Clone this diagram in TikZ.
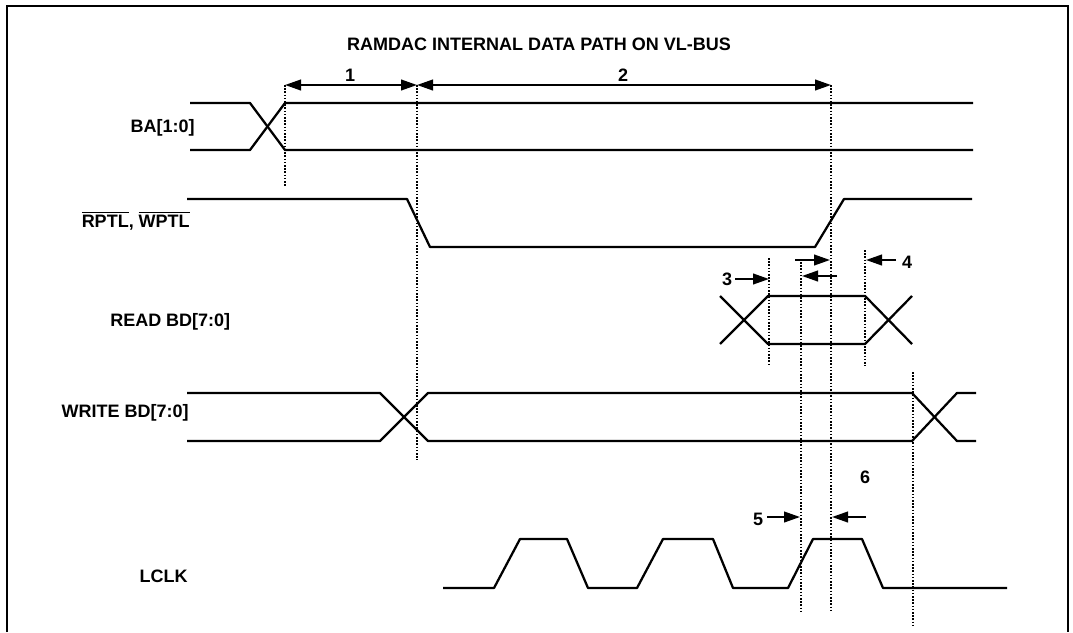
\documentclass[tikz,border=0pt]{standalone}
\usepackage{fontspec}
\setmainfont{Liberation Sans}
\usetikzlibrary{arrows.meta}
\begin{document}
\begin{tikzpicture}[x=0.75pt,y=-0.75pt,
  sig/.style={line width=1.7pt, line join=round},
  vguide/.style={line width=1.6pt, dash pattern=on 1.2pt off 1.2pt},
  dimone/.style={line width=1.5pt, -{Triangle[length=12pt,width=8pt]}},
  dimtwo/.style={line width=1.5pt, {Triangle[length=12pt,width=8pt]}-{Triangle[length=12pt,width=8pt]}},
  lbl/.style={font=\fontsize{13.5}{16}\selectfont\bfseries, inner sep=0pt},
]
\useasboundingbox (0,0) rectangle (1073,632);
% frame
\draw[line width=1.6pt] (7,632) -- (7,6) -- (1068,6) -- (1068,632);
% title
\node[lbl, anchor=base] (title) at (539,50) {RAMDAC INTERNAL DATA PATH ON VL-BUS};
% signal labels
\node[lbl, anchor=base east] (lba) at (195,132) {BA[1:0]};
\node[lbl, anchor=base east] (lrw) at (190,227) {$\overline{\hbox{RPTL}}$, $\overline{\hbox{WPTL}}$};
\node[lbl, anchor=base west] (lrd) at (110,326) {READ BD[7:0]};
\node[lbl, anchor=base east] (lwr) at (189,417) {WRITE BD[7:0]};
\node[lbl, anchor=base east] (lck) at (188,582) {LCLK};
% BA[1:0]
\draw[sig] (190,103) -- (250,103) -- (285,150) -- (973,150);
\draw[sig] (190,150) -- (250,150) -- (285,103) -- (973,103);
% RPTL, WPTL
\draw[sig] (187,199) -- (407,199) -- (430,247) -- (815,247) -- (844,199) -- (972,199);
% READ BD
\draw[sig] (720,296) -- (768,344) -- (865,344) -- (912,296);
\draw[sig] (720,344) -- (768,296) -- (865,296) -- (912,344);
% WRITE BD
\draw[sig] (187,393) -- (380,393) -- (428,441) -- (912,441) -- (957,393) -- (976,393);
\draw[sig] (187,441) -- (380,441) -- (428,393) -- (912,393) -- (957,441) -- (976,441);
% LCLK
\draw[sig] (443,588) -- (494,588) -- (520,539) -- (567,539) -- (588,588) -- (637,588)
  -- (663,539) -- (713,539) -- (733,588) -- (788,588) -- (813,539) -- (862,539)
  -- (883,588) -- (1007,588);
% guide lines
\coordinate (g1a) at (285,85);  \coordinate (g1b) at (285,187);
\coordinate (g2a) at (417,85);  \coordinate (g2b) at (417,460);
\coordinate (g3a) at (831,85);  \coordinate (g3b) at (831,612);
\coordinate (g4a) at (801,262); \coordinate (g4b) at (801,612);
\coordinate (g5a) at (769,258); \coordinate (g5b) at (769,366);
\coordinate (g6a) at (865,250); \coordinate (g6b) at (865,366);
\coordinate (g7a) at (913,372); \coordinate (g7b) at (913,627);
\foreach \g in {g1,g2,g3,g4,g5,g6,g7} \draw[vguide] (\g a) -- (\g b);
% dimension arrows
\node[lbl, anchor=base] (n1) at (350,81) {1};
\node[lbl, anchor=base] (n2) at (623,81) {2};
\draw[dimtwo] (g1a) -- (g2a);
\draw[dimtwo] (g2a) -- (g3a);
\node[lbl, anchor=base] (n3) at (727,285) {3};
\coordinate (a3s) at (735,279); \coordinate (a3e) at (769,279);
\draw[dimone] (a3s) -- (a3e);
\node[lbl, anchor=base] (n4) at (907,268) {4};
\coordinate (a4s) at (896,260); \coordinate (a4e) at (866,260);
\draw[dimone] (a4s) -- (a4e);
\coordinate (a7s) at (795,260); \coordinate (a7e) at (830,260);
\draw[dimone] (a7s) -- (a7e);
\coordinate (a8s) at (837,276); \coordinate (a8e) at (802,276);
\draw[dimone] (a8s) -- (a8e);
\node[lbl, anchor=base] (n5) at (758,525) {5};
\coordinate (a5s) at (767,517); \coordinate (a5e) at (800,517);
\draw[dimone] (a5s) -- (a5e);
\node[lbl, anchor=base] (n6) at (865,483) {6};
\coordinate (a6s) at (866,517); \coordinate (a6e) at (832,517);
\draw[dimone] (a6s) -- (a6e);
\end{tikzpicture}
\end{document}
